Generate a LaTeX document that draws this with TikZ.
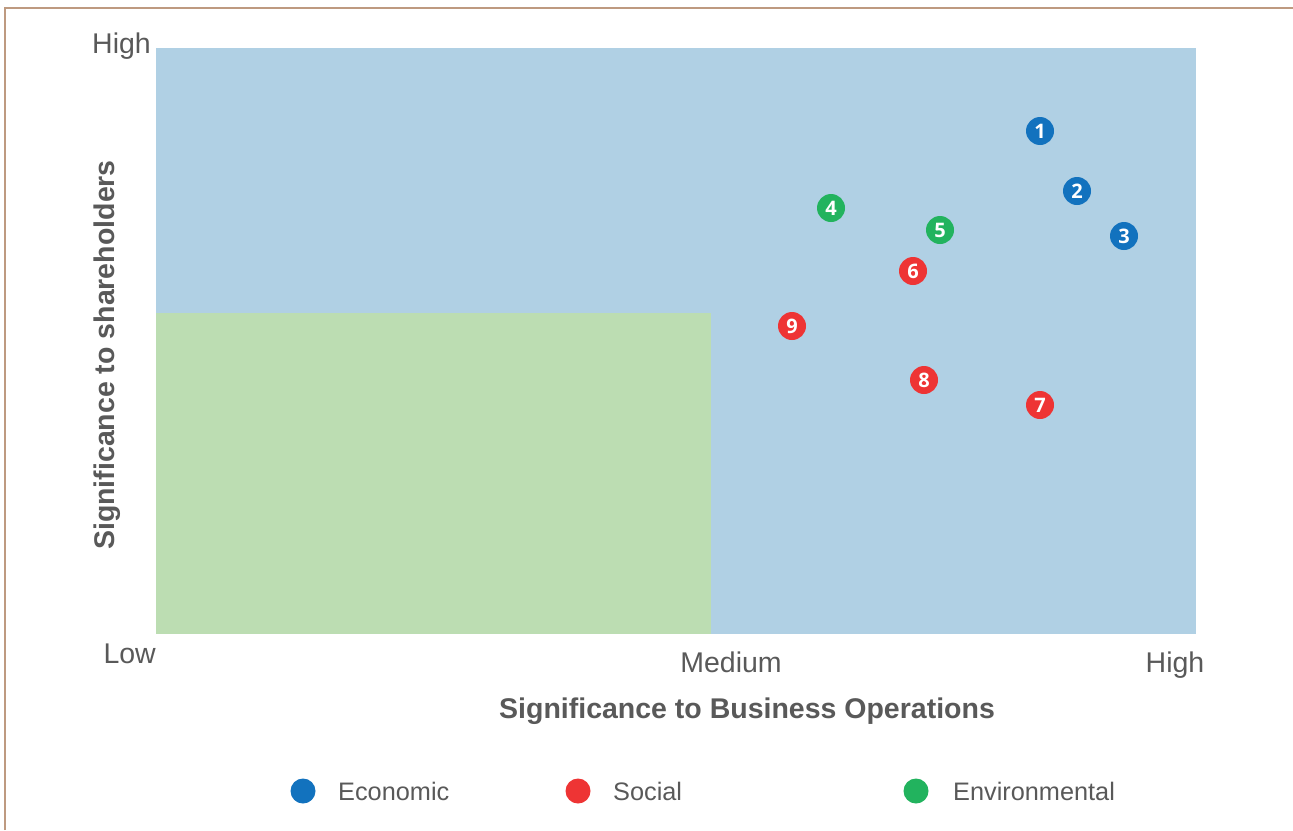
\documentclass[tikz,border=0pt]{standalone}
\usepackage{fontspec}
\setmainfont{Liberation Sans}
\newfontfamily\numfont{Open Sans}

\definecolor{framebrown}{HTML}{BE9A80}
\definecolor{zoneblue}{HTML}{B0D0E4}
\definecolor{zonegreen}{HTML}{BCDDB2}
\definecolor{econblue}{HTML}{1272BE}
\definecolor{socred}{HTML}{EE3434}
\definecolor{envgreen}{HTML}{22B35E}
\definecolor{labelgray}{HTML}{595959}

\tikzset{
  issue/.style={circle, fill=#1, text=white, inner sep=0pt, minimum size=28pt,
    font=\numfont\fontsize{20}{20}\selectfont\bfseries},
  keydot/.style={circle, fill=#1, inner sep=0pt, minimum size=25pt},
  tick/.style={text=labelgray, font=\fontsize{28.5}{28.5}\selectfont, anchor=base, inner sep=0pt},
  axistitle/.style={text=labelgray, font=\fontsize{28.5}{28.5}\selectfont\bfseries, anchor=base, inner sep=0pt},
  keytext/.style={text=labelgray, font=\fontsize{25.3}{25.3}\selectfont, anchor=base west, inner sep=0pt}
}

\begin{document}
\begin{tikzpicture}[x=1pt,y=-1pt]
\useasboundingbox (0,0) rectangle (1293,830);

% --- frame (top and left edge only)
\draw[framebrown, line width=1.5pt] (5,830) -- (5,8) -- (1293,8);

% --- the two zones
\fill[zoneblue] (156,48) rectangle (1196,634);
\fill[zonegreen] (156,313) rectangle (711,634);

% ---- axis ends
\node[tick, anchor=base east] (yhigh) at (151,53) {High};
\node[tick, anchor=base east] (xlow) at (156,663) {Low};
\node[tick] (xmed) at (731,672) {Medium};
\node[tick] (xhigh) at (1175,672) {High};

% ---- axis titles
\node[axistitle] (xtitle) at (747,718) {Significance to Business Operations};
\node[axistitle, rotate=90] (ytitle) at (114,355) {Significance to shareholders};

% ---- the issues
\node[issue=econblue] (i1) at (1040,131) {1};
\node[issue=econblue] (i2) at (1077,191) {2};
\node[issue=econblue] (i3) at (1124,236) {3};
\node[issue=envgreen] (i4) at (831,208) {4};
\node[issue=envgreen] (i5) at (940,230) {5};
\node[issue=socred] (i6) at (913,271) {6};
\node[issue=socred] (i7) at (1040,405) {7};
\node[issue=socred] (i8) at (924,380) {8};
\node[issue=socred] (i9) at (792,326) {9};

% ---- legend
\node[keydot=econblue] (kecon) at (303,791) {};
\node[keytext] (tecon) at (338,800) {Economic};
\node[keydot=socred] (ksoc) at (578,791) {};
\node[keytext] (tsoc) at (613,800) {Social};
\node[keydot=envgreen] (kenv) at (916,791) {};
\node[keytext] (tenv) at (953,800) {Environmental};
\end{tikzpicture}
\end{document}
